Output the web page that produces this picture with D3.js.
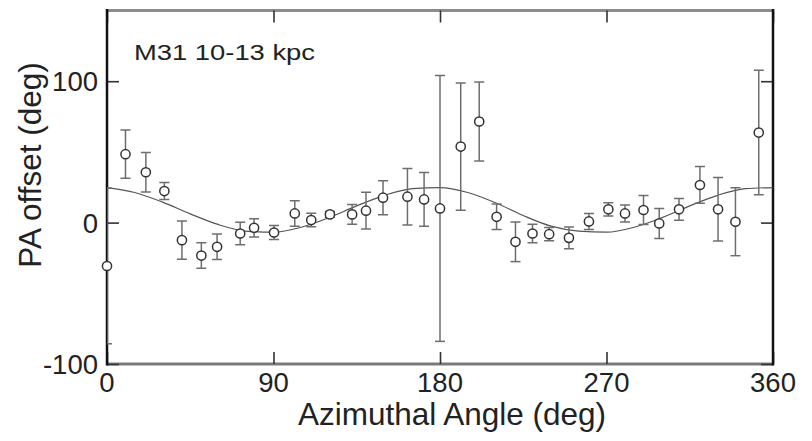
<!DOCTYPE html>
<html>
<head>
<meta charset="utf-8">
<script src="https://cdn.jsdelivr.net/npm/d3@7"></script>
<style>
  body { margin: 0; background: #fff; }
  text { font-family: "Liberation Sans", Arial, sans-serif; fill: #222; }
</style>
</head>
<body>
<script>
// Data (azimuth in deg, PA offset in deg, 1-sigma error)
const angles  = [0, 10, 21, 31, 40.5, 51, 59.5, 72, 79.5, 90.3, 101.5, 110.4, 120.5, 132.5, 140, 149.2, 162.4, 171.4,
                 180, 191.2, 201.2, 210.6, 220.8, 230, 239, 249.7, 260.5, 271, 280, 290, 298.5, 309.2, 320.5, 330.3, 339.7, 352.3];
const offsets = [-30.7, 48.4, 35.6, 22.3, -12.4, -23.3, -17.1, -7.7, -3.7, -7, 6.5, 1.8, 5.8, 5.8, 8.4, 17.6, 18.3, 16.4,
                 10, 53.8, 71.5, 4.1, -13.6, -7.7, -8.2, -10.8, 0.8, 9.4, 6.5, 8.9, -0.6, 9.4, 26.6, 9.4, 0.6, 63.7];
const errors  = [55, 17, 14, 6, 13.5, 9, 9, 8, 6.5, 5, 9, 4.8, 2, 7, 13, 12, 20, 19,
                 94, 45, 28, 9, 14, 6.5, 4.7, 7.7, 5.7, 4.7, 6, 10.3, 10.6, 7.7, 13, 22.5, 24, 44];

const fitAngles = [0, 15, 30, 45, 60, 75, 90, 105, 120, 135, 150, 165, 180, 195, 210, 225, 240, 255, 270, 285, 300, 315, 330, 345, 360];
const fitValues = [24.8, 21.3, 14.5, 6.2, -1.3, -6, -6.8, -3.3, 3.5, 11.8, 19.3, 24, 24.8, 21.3, 14, 5, -2.5, -6, -6.8, -3.3, 3.5, 11.8, 19.3, 24, 24.8];

const xTicks = [0, 90, 180, 270, 360];
const yTicks = [-100, 0, 100];

const width = 812, height = 441;
const box = {left: 107, right: 773, top: 10.5, bottom: 364};

const svg = d3.select("body").append("svg")
  .attr("width", width)
  .attr("height", height);

const x = d3.scaleLinear().domain([0, 360]).range([box.left, box.right]);
const y = d3.scaleLinear().domain([-100, 150]).range([box.bottom, box.top]);

svg.append("clipPath").attr("id", "plot")
  .append("rect")
  .attr("x", box.left).attr("y", box.top)
  .attr("width", box.right - box.left).attr("height", box.bottom - box.top);

// frame: left/right dark, top/bottom grey as in the original
svg.append("line").attr("x1", box.left).attr("x2", box.right).attr("y1", box.top).attr("y2", box.top)
  .attr("stroke", "#8c8c8c").attr("stroke-width", 3);
svg.append("line").attr("x1", box.left).attr("x2", box.right).attr("y1", box.bottom).attr("y2", box.bottom)
  .attr("stroke", "#7a7a7a").attr("stroke-width", 3);

// axes with inward ticks
const xAxisBottom = svg.append("g")
  .attr("transform", `translate(0,${box.bottom})`)
  .call(d3.axisTop(x).tickValues(xTicks).tickSize(12).tickFormat(""));
const xAxisTop = svg.append("g")
  .attr("transform", `translate(0,${box.top})`)
  .call(d3.axisBottom(x).tickValues(xTicks).tickSize(12).tickFormat(""));
const yAxisLeft = svg.append("g")
  .attr("transform", `translate(${box.left},0)`)
  .call(d3.axisRight(y).tickValues(yTicks).tickSize(12).tickFormat(""));
const yAxisRight = svg.append("g")
  .attr("transform", `translate(${box.right},0)`)
  .call(d3.axisLeft(y).tickValues(yTicks).tickSize(12).tickFormat(""));

[xAxisBottom, xAxisTop, yAxisLeft, yAxisRight].forEach(a => {
  a.select(".domain").remove();
  a.selectAll(".tick line").attr("stroke", "#333").attr("stroke-width", 1.6);
});

svg.append("line").attr("x1", box.left).attr("x2", box.left).attr("y1", box.top - 1.5).attr("y2", box.bottom + 1.5)
  .attr("stroke", "#111").attr("stroke-width", 2.5);
svg.append("line").attr("x1", box.right).attr("x2", box.right).attr("y1", box.top - 1.5).attr("y2", box.bottom + 1.5)
  .attr("stroke", "#111").attr("stroke-width", 2.5);

// tick labels
svg.append("g").selectAll("text")
  .data(xTicks)
  .join("text")
  .attr("x", d => x(d))
  .attr("y", box.bottom + 28)
  .attr("text-anchor", "middle")
  .attr("font-size", 27.5)
  .text(d => d);

svg.append("g").selectAll("text")
  .data(yTicks)
  .join("text")
  .attr("x", box.left - 9)
  .attr("y", d => y(d) + 10)
  .attr("text-anchor", "end")
  .attr("font-size", 27.5)
  .text(d => d);

// axis titles
svg.append("text")
  .attr("x", 452)
  .attr("y", 425)
  .attr("text-anchor", "middle")
  .attr("font-size", 31.5)
  .text("Azimuthal Angle (deg)");

svg.append("text")
  .attr("transform", "translate(41,165) rotate(-90)")
  .attr("text-anchor", "middle")
  .attr("font-size", 31.5)
  .text("PA offset (deg)");

svg.append("text")
  .attr("x", 134)
  .attr("y", 59.5)
  .attr("font-size", 22)
  .attr("textLength", 181)
  .attr("lengthAdjust", "spacingAndGlyphs")
  .text("M31  10-13 kpc");

// fitted curve
const fit = fitAngles.map((a, i) => [a, fitValues[i]]);
svg.append("path")
  .datum(fit)
  .attr("clip-path", "url(#plot)")
  .attr("fill", "none")
  .attr("stroke", "#555")
  .attr("stroke-width", 1.2)
  .attr("d", d3.line().x(d => x(d[0])).y(d => y(d[1])).curve(d3.curveMonotoneX));

// error bars
const pts = angles.map((a, i) => ({a: a, v: offsets[i], e: errors[i]}));
const cap = 5;
const eb = svg.append("g")
  .attr("clip-path", "url(#plot)")
  .attr("stroke", "#6e6e6e")
  .attr("stroke-width", 1.5);

eb.selectAll("line.stem")
  .data(pts)
  .join("line")
  .attr("class", "stem")
  .attr("x1", d => x(d.a)).attr("x2", d => x(d.a))
  .attr("y1", d => y(d.v + d.e)).attr("y2", d => y(d.v - d.e));
eb.selectAll("line.capTop")
  .data(pts)
  .join("line")
  .attr("class", "capTop")
  .attr("x1", d => x(d.a) - cap).attr("x2", d => x(d.a) + cap)
  .attr("y1", d => y(d.v + d.e)).attr("y2", d => y(d.v + d.e));
eb.selectAll("line.capBot")
  .data(pts)
  .join("line")
  .attr("class", "capBot")
  .attr("x1", d => x(d.a) - cap).attr("x2", d => x(d.a) + cap)
  .attr("y1", d => y(d.v - d.e)).attr("y2", d => y(d.v - d.e));

// points
svg.append("g").selectAll("circle")
  .data(pts)
  .join("circle")
  .attr("cx", d => x(d.a))
  .attr("cy", d => y(d.v))
  .attr("r", 4.6)
  .attr("fill", "#fff")
  .attr("stroke", "#333")
  .attr("stroke-width", 1.5);
</script>
</body>
</html>
